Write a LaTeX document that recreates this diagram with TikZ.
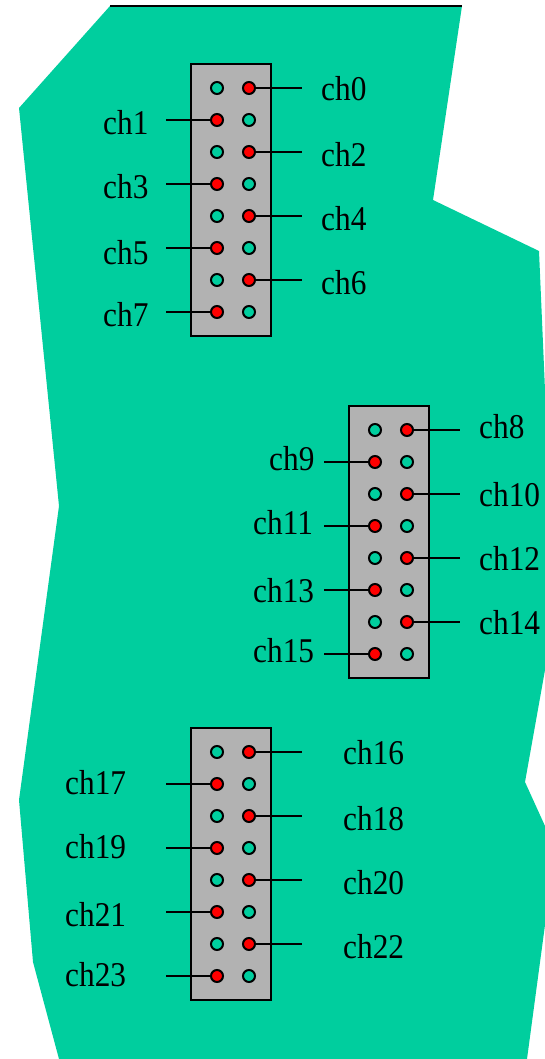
\documentclass[tikz,border=0pt]{standalone}
\usepackage{fontspec}
\setmainfont{Liberation Serif}
\definecolor{boardgreen}{RGB}{0,206,158}
\definecolor{headgray}{RGB}{178,178,178}
\tikzset{
  pin/.style={circle,draw=black,line width=2pt,inner sep=0pt,minimum size=12pt},
  freepin/.style={pin,fill=boardgreen},
  chanpin/.style={pin,fill=red},
  chanlabel/.style={font=\fontsize{31}{31}\selectfont,inner sep=0pt,text=black,xscale=1.01,yscale=1.12},
  wire/.style={line width=2pt},
  head/.style={draw=black,line width=2pt,fill=headgray}
}
\begin{document}
\begin{tikzpicture}[x=1pt,y=-1pt]
        \useasboundingbox (0,0) rectangle (545,1059);
        \fill[boardgreen] (110,6) -- (462,6) -- (433,200) -- (539,251) -- (545,390) --
        (545,670) -- (525,782) -- (545,826) -- (545,925) -- (527,1059) --
        (59,1059) -- (33,962) -- (19,800) -- (59,506) -- (19,108) -- cycle;
        \draw[wire] (110,6) -- (462,6);
        % headers: left edge / top edge / first channel
        \foreach \hx/\hy/\hname in {191/64/a, 349/406/b, 191/728/c} {
          \draw[head] (\hx,\hy) rectangle ++(80,272);
          \foreach \row in {0,1,...,7} {
            \pgfmathtruncatemacro{\isodd}{mod(\row,2)}
            \ifnum\isodd=0
              \node[freepin] (\hname l\row) at (\hx+26,\hy+24+32*\row) {};
              \node[chanpin] (\hname r\row) at (\hx+58,\hy+24+32*\row) {};
              \coordinate (\hname e\row) at (\hx+111,\hy+24+32*\row);
              \draw[wire] (\hname r\row) -- (\hname e\row);
            \else
              \node[chanpin] (\hname l\row) at (\hx+26,\hy+24+32*\row) {};
              \node[freepin] (\hname r\row) at (\hx+58,\hy+24+32*\row) {};
              \coordinate (\hname e\row) at (\hx-25,\hy+24+32*\row);
              \draw[wire] (\hname e\row) -- (\hname l\row);
            \fi
          }
        }
        % labels, left aligned at their x
        \foreach \lx/\ly/\ltext in {%
          321/89/ch0, 103/123/ch1, 321/155/ch2, 103/187/ch3,
          321/219/ch4, 103/253/ch5, 321/283/ch6, 103/315/ch7,
          479/427/ch8, 269/459/ch9, 479/495/ch10, 253/523/ch11,
          479/559/ch12, 253/591/ch13, 479/623/ch14, 253/651/ch15,
          343/753/ch16, 65/783/ch17, 343/819/ch18, 65/847/ch19,
          343/883/ch20, 65/915/ch21, 343/947/ch22, 65/975/ch23} {
            \node[chanlabel,anchor=west] (\ltext) at (\lx,\ly) {\ltext};
        }
      \end{tikzpicture}
\end{document}
